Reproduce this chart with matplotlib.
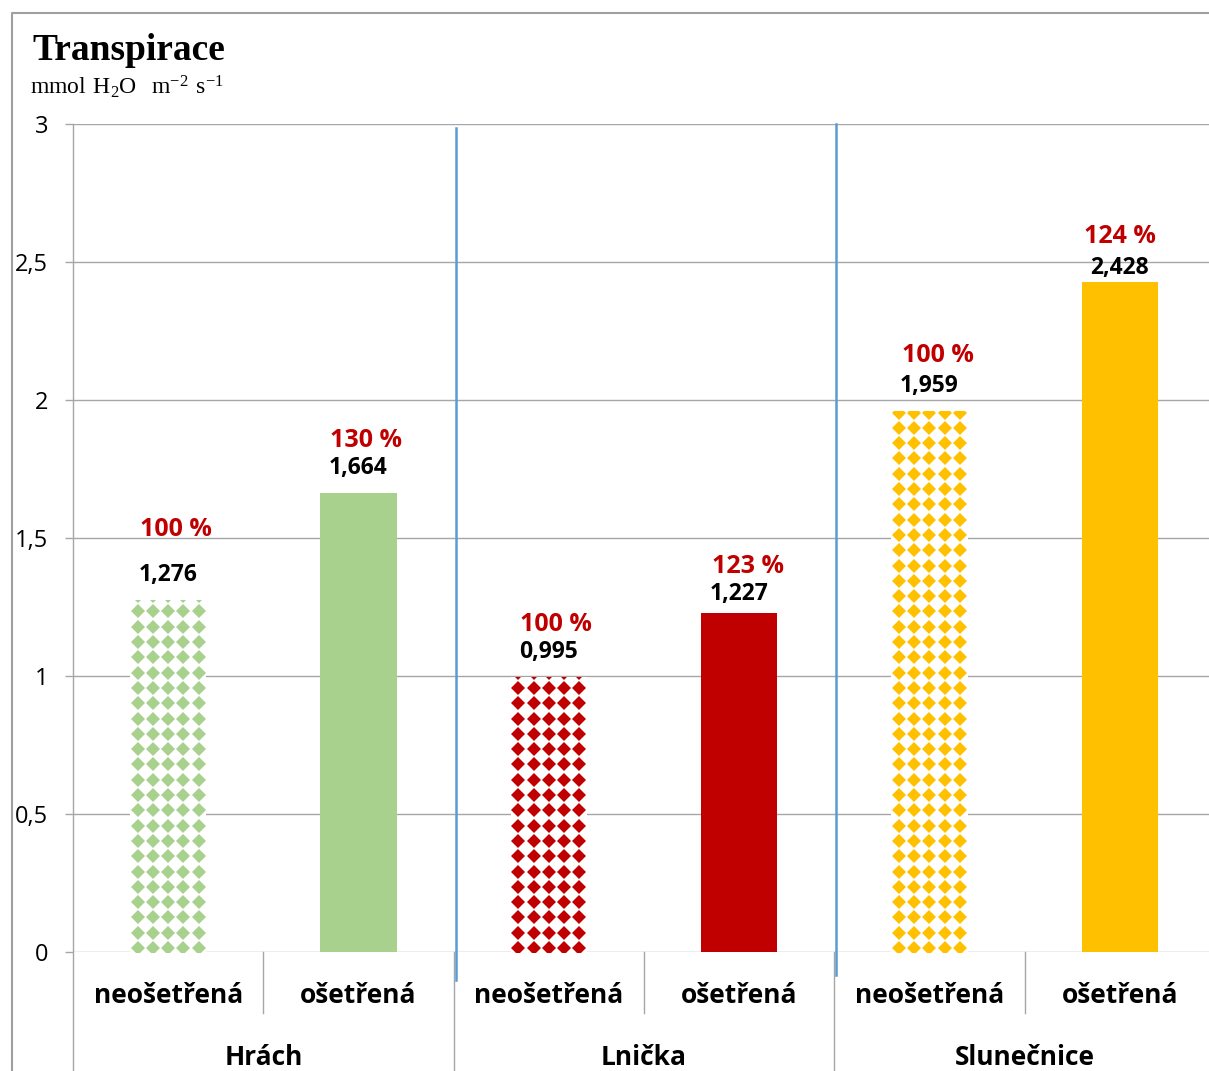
import matplotlib
matplotlib.use("Agg")
import numpy as np
import matplotlib.pyplot as plt
from matplotlib.lines import Line2D
from matplotlib.ticker import FuncFormatter

# data
GROUPS = ["Hrách", "Lnička", "Slunečnice"]
TREATMENTS = ["neošetřená", "ošetřená"]
UNTREATED = [1.276, 0.995, 1.959]
TREATED = [1.664, 1.227, 2.428]
COLORS = ["#A9D18E", "#C00000", "#FFC000"]

# label placement (pixels): value label above bar top, percent above value label
VAL_GAP = [25, 25, 25, 19, 25, 14]
PCT_GAP = [45, 27, 28, 28, 31, 31]
PCT_DX = [8, 7, 7, 9, 8, 0]

plt.rcParams["font.family"] = ["Open Sans", "DejaVu Sans"]
plt.rcParams["mathtext.fontset"] = "custom"
plt.rcParams["mathtext.rm"] = "Liberation Serif"

GRID = "#A6A6A6"
SERIF = "Liberation Serif"

values, colors, hatched, pcts = [], [], [], []
for u, t, c in zip(UNTREATED, TREATED, COLORS):
    values += [u, t]
    colors += [c, c]
    hatched += [True, False]
    pcts += [100, round(t / u * 100)]
x = np.arange(len(values))

fig = plt.figure(figsize=(12.09, 10.71), dpi=100)
ax = fig.add_axes([73 / 1209, 119 / 1071, 1142 / 1209, 828 / 1071])

ax.set_xlim(-0.5, 5.5)
ax.set_ylim(0, 3)
ax.set_yticks(np.arange(0, 3.01, 0.5))
ax.yaxis.set_major_formatter(FuncFormatter(lambda v, p: f"{v:g}".replace(".", ",")))
ax.tick_params(axis="y", length=6, width=1, color=GRID, pad=12, labelsize=17)
ax.set_xticks([])
for s in ax.spines.values():
    s.set_visible(False)
ax.grid(axis="y", color=GRID, lw=1.0)
ax.set_axisbelow(True)

bars = ax.bar(x, values, width=0.4, color=[("white" if h else c) for h, c in zip(hatched, colors)],
              zorder=2)

# diamond pattern for untreated bars
dx = 15.3 / 190.33
dy = 15.3 / 276
for b, h, c, v in zip(bars, hatched, colors, values):
    if not h:
        continue
    cx = b.get_x() + b.get_width() / 2
    xs = cx + np.arange(-2, 3) * dx
    ys = 4 / 276 + np.arange(0, int(v / dy) + 2) * dy
    gx, gy = np.meshgrid(xs, ys)
    ln, = ax.plot(gx.ravel(), gy.ravel(), "D", ms=7.2, mew=0, color=c, zorder=3)
    ln.set_clip_path(b)

# labels
for xi, v, p, vg, pg, pdx in zip(x, values, pcts, VAL_GAP, PCT_GAP, PCT_DX):
    ax.annotate(f"{v:.3f}".replace(".", ","), (xi, v), xytext=(0, vg),
                textcoords="offset pixels", ha="center", va="center",
                fontsize=16.5, fontweight="bold", color="black", zorder=5)
    ax.annotate(f"{p} %", (xi, v), xytext=(pdx, vg + pg),
                textcoords="offset pixels", ha="center", va="center",
                fontsize=18, fontweight="bold", color="#C00000", zorder=5)

# category axis
tr = ax.get_xaxis_transform()
bottom = -0.15
ax.add_line(Line2D([-0.5, -0.5], [1, bottom], transform=tr, color=GRID, lw=1.0, clip_on=False))
for bx in [1.5, 3.5]:
    ax.add_line(Line2D([bx, bx], [0, bottom], transform=tr, color=GRID, lw=1.0, clip_on=False))
for bx in [0.5, 2.5, 4.5]:
    ax.add_line(Line2D([bx, bx], [0, -0.0737], transform=tr, color=GRID, lw=1.0, clip_on=False))
for xi in x:
    ax.text(xi, -0.053, TREATMENTS[xi % 2], transform=tr, ha="center", va="center",
            fontsize=19, fontweight="bold")
for gi, g in enumerate(GROUPS):
    ax.text(2 * gi + 0.5, -0.128, g, transform=tr, ha="center", va="center",
            fontsize=19, fontweight="bold")

# blue separator lines
ax.add_line(Line2D([1.512, 1.512], [0.995, -0.034], transform=tr, color="#5B9BD5", lw=1.8,
                   clip_on=False, zorder=4))
ax.add_line(Line2D([3.509, 3.509], [1.0, -0.028], transform=tr, color="#5B9BD5", lw=1.8,
                   clip_on=False, zorder=4))

# outer frame
bx0, by0 = 12 / 1209, 1 - 13 / 1071
fig.add_artist(Line2D([bx0, bx0, 1.01], [-0.01, by0, by0], transform=fig.transFigure,
                      color="#A0A0A0", lw=1.5))

fig.text(32 / 1209, 1 - 51 / 1071, "Transpirace", family=SERIF, fontweight="bold",
         fontsize=27, ha="left", va="center")
fig.text(30 / 1209, 1 - 87 / 1071, r"$\mathrm{mmol\ H_2O\ \ m^{-2}\ s^{-1}}$",
         fontsize=17, ha="left", va="center")

fig.savefig("out.png", dpi=100, facecolor="white")
